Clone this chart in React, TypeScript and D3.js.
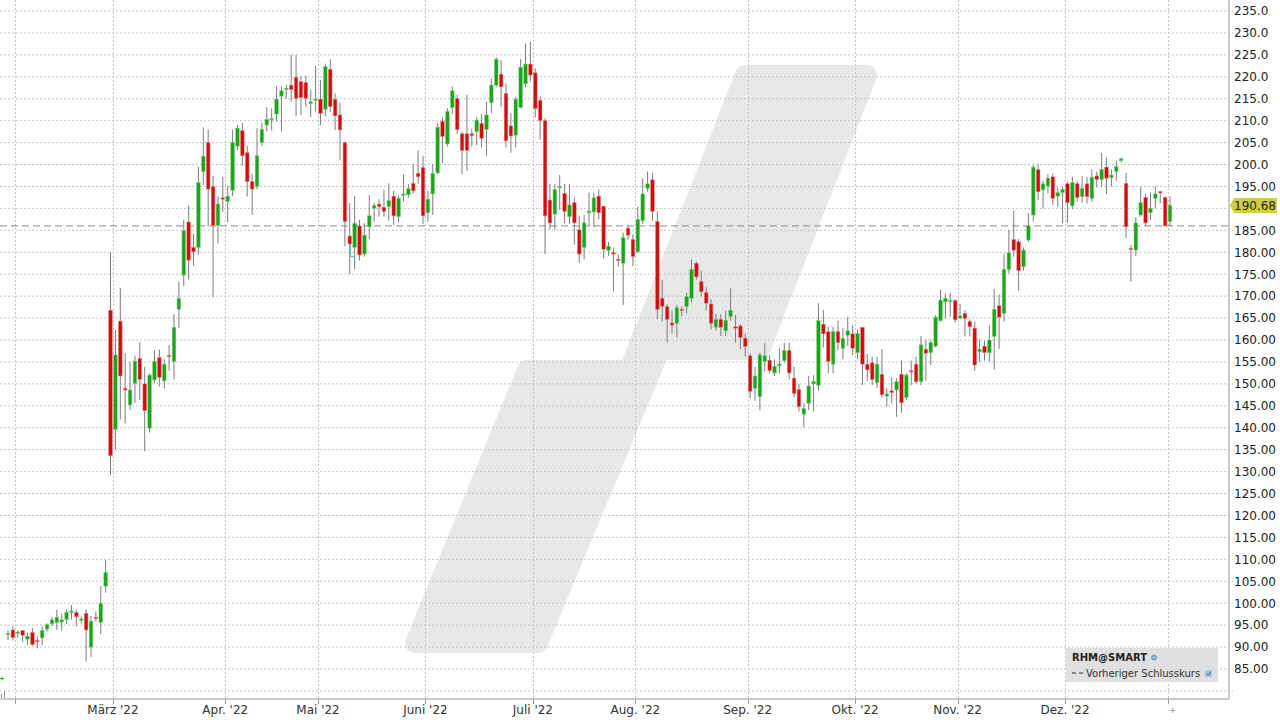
import React from "react";
import * as d3 from "d3";

// OHLC per trading day: [open, high, low, close]
type Bar = [number, number, number, number];

const jan22: Bar[] = [
  [92.9, 93.8, 91.6, 93.1], [93.9, 94.7, 91.5, 92.2],
];
const feb22: Bar[] = [
  [93.1, 93.8, 92.2, 93.4], [93.75, 93.9, 91.2, 92.7], [91.8, 93.3, 90.5, 92.5], [93.3, 94.3, 90.3, 90.6],
  [91.5, 92.4, 89.7, 91.2], [92.1, 94.7, 90.4, 93.75], [94.1, 95.4, 93.5, 95.1], [95.3, 96.9, 94.8, 96.2],
  [95.6, 98.5, 93.9, 96.8], [95.7, 97.6, 93.75, 96.2], [96.3, 98.5, 95.3, 97.9], [97.9, 99.6, 96.3, 98.2],
  [97.9, 98.5, 94.7, 96.9], [96.2, 97.0, 95.4, 96.4], [97.7, 98.6, 86.7, 93.9], [90.0, 97.1, 87.8, 95.9],
  [96.8, 98.1, 95.8, 96.5], [95.6, 103.9, 93.0, 100.0], [103.9, 109.9, 102.4, 107.0], [166.8, 180.0, 129.3, 133.6],
];
const mar22: Bar[] = [
  [139.6, 162.3, 135.0, 156.6], [164.3, 171.9, 141.9, 151.8], [149.0, 157.0, 141.0, 148.6], [145.2, 155.0, 144.1, 148.6],
  [150.1, 156.4, 145.7, 155.2], [155.8, 159.6, 146.3, 151.0], [150.0, 153.9, 134.6, 143.9], [139.9, 152.4, 138.9, 152.0],
  [150.9, 157.7, 150.1, 155.1], [156.0, 157.9, 149.4, 151.5], [150.7, 155.6, 149.0, 154.5], [156.5, 158.9, 153.0, 156.2],
  [155.1, 165.9, 151.0, 162.9], [167.0, 173.3, 162.7, 169.5], [174.8, 187.4, 172.3, 184.9], [186.9, 190.6, 173.8, 178.2],
  [181.1, 184.2, 176.9, 180.1], [181.1, 199.5, 179.4, 195.9], [198.4, 208.5, 195.3, 201.9], [205.0, 207.9, 186.0, 194.4],
  [195.0, 197.4, 169.7, 186.1], [186.1, 192.7, 182.0, 191.0], [192.4, 197.2, 189.3, 192.1],
];
const apr22: Bar[] = [
  [191.6, 195.1, 186.8, 192.8], [194.1, 207.9, 192.8, 205.0], [204.2, 209.0, 203.3, 208.3], [207.7, 209.5, 199.7, 202.0],
  [202.7, 204.2, 192.7, 196.1], [196.1, 197.9, 188.5, 194.4], [195.0, 208.3, 194.4, 202.0], [205.0, 209.5, 204.2, 208.0],
  [209.0, 213.1, 207.5, 210.3], [210.2, 212.8, 207.8, 210.5], [211.5, 217.8, 209.8, 214.9], [215.6, 217.8, 207.5, 216.8],
  [217.1, 218.2, 215.0, 217.4], [218.1, 225.0, 214.3, 217.1], [219.9, 225.0, 211.0, 215.1], [218.9, 220.2, 211.3, 215.3],
  [218.7, 220.2, 213.2, 215.1], [213.9, 217.1, 210.8, 214.3], [214.6, 222.5, 212.1, 214.9],
];
const may22: Bar[] = [
  [214.9, 219.3, 209.0, 211.7], [212.6, 223.0, 211.0, 222.3], [221.7, 224.0, 212.0, 213.2], [214.9, 216.2, 207.9, 211.1],
  [211.3, 214.1, 201.0, 207.9], [205.0, 205.2, 181.4, 187.0], [183.7, 191.2, 175.0, 181.9], [181.1, 192.8, 176.1, 186.6],
  [186.0, 187.4, 178.1, 179.4], [179.6, 186.6, 179.0, 183.9], [185.8, 193.0, 183.0, 188.3], [190.0, 191.3, 187.0, 190.7],
  [191.0, 192.1, 188.1, 190.4], [190.2, 194.3, 188.1, 189.3], [190.4, 195.7, 187.2, 191.8], [192.8, 194.0, 186.2, 188.3],
  [188.1, 193.0, 186.8, 192.3], [193.0, 197.8, 191.5, 193.3], [193.1, 195.6, 192.4, 194.5], [195.7, 200.1, 193.4, 194.0],
  [198.0, 203.2, 195.6, 197.2], [199.3, 201.9, 186.4, 188.3],
];
const jun22: Bar[] = [
  [189.0, 194.0, 187.0, 192.1], [193.3, 200.1, 188.5, 198.0], [198.1, 209.4, 197.8, 208.5], [209.8, 210.8, 200.4, 206.4],
  [204.7, 212.8, 204.1, 212.1], [213.0, 217.8, 211.5, 216.8], [215.1, 215.9, 207.0, 208.0], [207.0, 207.5, 197.8, 203.2],
  [207.0, 215.9, 198.6, 203.2], [207.0, 208.2, 204.1, 206.6], [207.5, 210.8, 204.4, 210.1], [209.4, 211.5, 203.9, 206.0],
  [208.0, 214.3, 202.0, 211.3], [214.1, 219.6, 211.7, 218.1], [218.1, 224.4, 217.6, 224.0], [220.6, 223.8, 213.2, 217.7],
  [216.2, 218.5, 203.9, 205.4], [208.8, 211.7, 202.7, 206.5], [206.7, 215.5, 203.9, 214.9], [213.0, 224.0, 212.8, 222.2],
  [218.4, 227.6, 217.6, 222.9], [222.9, 228.0, 218.9, 220.4],
];
const jul22: Bar[] = [
  [220.9, 221.9, 210.8, 212.8], [214.6, 215.5, 205.7, 210.0], [210.0, 210.5, 179.6, 188.3], [191.9, 195.6, 185.2, 186.7],
  [188.7, 195.6, 185.1, 194.3], [194.7, 197.6, 189.6, 195.0], [193.4, 195.6, 186.6, 189.3], [188.1, 195.6, 186.5, 190.8],
  [191.3, 192.5, 181.7, 186.7], [185.1, 188.3, 177.6, 179.6], [181.1, 188.5, 178.4, 186.7], [189.0, 193.6, 186.0, 189.4],
  [189.2, 193.6, 185.8, 192.4], [192.8, 194.3, 187.5, 189.0], [190.5, 190.5, 178.6, 180.7], [180.4, 182.4, 179.1, 181.4],
  [179.9, 181.1, 171.0, 179.6], [178.4, 179.6, 176.7, 178.1], [177.5, 184.5, 168.0, 183.4], [185.5, 186.2, 182.9, 183.9],
  [182.9, 184.2, 176.9, 179.0],
];
const aug22: Bar[] = [
  [180.1, 190.4, 179.8, 187.5], [187.2, 196.9, 186.4, 193.3], [194.6, 198.4, 193.8, 195.6], [196.5, 198.1, 187.2, 189.3],
  [187.0, 189.3, 164.7, 167.0], [169.5, 173.7, 164.2, 167.7], [167.6, 168.2, 159.4, 164.7], [163.9, 166.7, 161.5, 163.4],
  [163.8, 168.0, 160.6, 167.4], [167.0, 167.6, 165.4, 166.7], [167.6, 170.8, 166.0, 169.9], [169.5, 178.4, 168.5, 176.1],
  [177.5, 177.9, 173.8, 174.4], [173.3, 175.8, 170.0, 171.0], [170.8, 172.0, 166.7, 168.4], [168.2, 169.3, 162.4, 163.8],
  [162.9, 165.9, 162.1, 164.7], [164.7, 165.9, 160.9, 162.9], [162.1, 166.7, 160.9, 164.5], [165.4, 171.8, 164.4, 166.8],
  [163.0, 165.7, 159.4, 162.7], [163.2, 163.6, 157.9, 160.6], [160.4, 161.5, 156.2, 158.5],
];
const sep22: Bar[] = [
  [156.4, 156.9, 146.8, 148.3], [149.0, 153.9, 146.2, 151.8], [147.1, 157.1, 144.0, 156.6], [155.1, 159.3, 152.8, 156.4],
  [155.4, 156.6, 152.4, 153.0], [152.5, 155.6, 151.8, 154.0], [154.1, 158.1, 152.4, 154.5], [155.3, 159.4, 154.8, 157.6],
  [157.6, 159.4, 151.0, 152.5], [151.3, 153.9, 146.9, 147.8], [148.7, 150.0, 143.7, 144.8], [143.1, 145.6, 140.1, 144.4],
  [145.6, 151.8, 144.0, 149.5], [150.0, 152.0, 143.7, 150.5], [149.7, 168.4, 148.4, 164.4], [163.6, 166.8, 158.3, 161.4],
  [161.9, 163.0, 152.4, 155.1], [154.5, 163.0, 152.4, 161.9], [161.9, 164.4, 157.7, 159.4], [158.1, 162.7, 155.6, 160.4],
  [161.1, 165.3, 158.6, 162.1], [161.4, 163.4, 156.6, 158.1],
];
const oct22: Bar[] = [
  [157.1, 162.4, 155.6, 161.5], [162.9, 163.0, 149.7, 154.5], [154.5, 156.8, 150.7, 153.2], [154.8, 156.2, 149.7, 151.0],
  [150.3, 156.2, 149.0, 154.5], [152.2, 157.9, 146.9, 147.5], [147.2, 149.0, 144.8, 147.7], [148.4, 151.5, 145.6, 148.0],
  [148.6, 151.3, 142.5, 150.5], [152.2, 155.3, 143.4, 145.7], [146.9, 152.4, 146.3, 152.0], [153.0, 155.3, 149.7, 152.8],
  [154.5, 156.2, 150.0, 150.5], [150.5, 160.9, 149.7, 158.9], [157.9, 160.1, 150.7, 157.0], [157.1, 160.1, 154.3, 159.4],
  [158.6, 165.7, 158.3, 165.2], [164.4, 171.4, 164.2, 169.1], [168.7, 170.6, 164.9, 169.5], [168.8, 170.8, 165.4, 169.1],
  [169.0, 169.3, 164.0, 164.6],
];
const nov22: Bar[] = [
  [165.0, 168.2, 164.7, 165.5], [166.1, 166.8, 160.8, 164.9], [164.2, 164.7, 160.8, 163.0], [162.7, 164.2, 153.0, 154.3],
  [157.3, 160.1, 155.0, 157.9], [158.6, 159.8, 155.3, 157.1], [157.1, 163.4, 155.1, 160.0], [160.8, 171.7, 153.2, 167.0],
  [167.8, 170.4, 158.0, 165.2], [166.1, 179.7, 164.2, 176.1], [176.1, 185.1, 175.2, 179.9], [182.9, 189.5, 179.0, 180.5],
  [182.4, 183.0, 171.2, 175.8], [176.7, 181.1, 175.8, 180.5], [182.8, 188.9, 182.4, 186.0], [188.5, 199.9, 187.0, 199.4],
  [198.8, 200.1, 191.9, 193.8], [194.2, 196.3, 190.0, 195.6], [195.1, 197.8, 193.4, 196.9], [197.2, 198.0, 190.8, 192.3],
  [192.8, 194.8, 190.4, 193.6], [193.6, 195.0, 186.6, 194.3],
];
const dec22: Bar[] = [
  [195.6, 196.1, 186.7, 191.3], [190.6, 197.2, 189.8, 195.9], [195.6, 196.3, 191.5, 192.5], [192.7, 197.4, 191.3, 194.6],
  [195.6, 197.1, 191.1, 192.7], [192.3, 198.9, 191.5, 197.1], [197.4, 198.4, 194.8, 196.6], [196.6, 202.7, 195.0, 198.9],
  [199.4, 201.6, 193.3, 196.9], [197.1, 198.9, 195.0, 197.6], [198.4, 200.9, 196.3, 199.5], [200.9, 201.6, 200.5, 201.3],
  [195.7, 198.1, 183.2, 185.8], [180.9, 181.7, 173.3, 180.7], [180.5, 188.0, 179.1, 186.7], [188.5, 194.9, 188.1, 191.3],
  [192.5, 193.3, 186.0, 186.7], [189.0, 193.6, 187.4, 190.0], [192.3, 195.0, 190.0, 193.3], [193.8, 194.0, 191.2, 193.6],
  [192.5, 192.8, 186.0, 186.0],
];
const jan23: Bar[] = [[187.0, 192.7, 186.0, 190.68]];

const months = [jan22, feb22, mar22, apr22, may22, jun22, jul22, aug22, sep22, oct22, nov22, dec22, jan23];
// label for the gridline at the start of each month (index into months)
const monthLabels = ["", "", "März '22", "Apr. '22", "Mai '22", "Juni '22", "Juli '22", "Aug. '22", "Sep. '22", "Okt. '22", "Nov. '22", "Dez. '22", "+"];

const lastPrice = 190.68;
const prevClose = 186.0;
const symbol = "RHM@SMART";
const prevCloseLabel = "Vorheriger Schlusskurs";

const W = 1280;
const H = 720;
const plotRight = 1229;
const plotBottom = 699;
const font = "'DejaVu Sans', Verdana, sans-serif";
const UP = "#1ea31e";
const DOWN = "#cc1010";

export default function App() {
  const candles = months.flat().map(([o, h, l, c], i) => ({ i, o, h, l, c }));
  const starts: number[] = [];
  let acc = 0;
  months.forEach((m) => {
    starts.push(acc);
    acc += m.length;
  });

  const x = d3.scaleLinear().domain([0, candles.length - 1]).range([8, 1170]);
  const y = d3.scaleLinear().domain([85, 235]).range([669, 11]);
  const step = x(1) - x(0);
  const bw = 3.6;

  const gridY = d3.range(80, 236, 5);
  const tickY = d3.range(85, 236, 5).filter((v) => v !== 190);
  const fmt = (v: number) => (v >= 200 ? v.toFixed(1) : v.toFixed(2));

  // watermark shape (decorative)
  const wm = "M745,75 L867,75 L760,350 L660,350 L538,643 L415,643 L527,370 L629,370 Z";

  const lastY = y(lastPrice);

  return (
    <svg width={W} height={H} style={{ position: "absolute", left: 0, top: 0, background: "#fff" }} fontFamily={font}>
      <rect x={0} y={0} width={W} height={H} fill="#fff" />
      <path d={wm} fill="#e8e8e8" stroke="#e8e8e8" strokeWidth={20} strokeLinejoin="round" />

      {/* horizontal grid */}
      {gridY.map((v) => (
        <line key={"gy" + v} x1={0} x2={plotRight + 4} y1={y(v)} y2={y(v)} stroke="#c4c4c4" strokeWidth={1} strokeDasharray="2 2" />
      ))}
      {/* vertical grid at month starts */}
      {starts.slice(1).map((s, k) => {
        const gx = Math.round(x(s) - step / 2) + 0.5;
        return (
          <g key={"gx" + k}>
            <line x1={gx} x2={gx} y1={0} y2={plotBottom} stroke="#c4c4c4" strokeDasharray="2 2" />
            <line x1={gx} x2={gx} y1={plotBottom} y2={plotBottom + 5} stroke="#999" />
          </g>
        );
      })}

      {/* previous close */}
      <line x1={0} x2={plotRight} y1={y(prevClose)} y2={y(prevClose)} stroke="#8a8a8a" strokeWidth={1} strokeDasharray="7 4" />

      {/* candles */}
      {candles.map((d) => {
        const up = d.c >= d.o;
        const top = y(Math.max(d.o, d.c));
        const bot = y(Math.min(d.o, d.c));
        const cx = x(d.i);
        return (
          <g key={"c" + d.i}>
            <line x1={cx} x2={cx} y1={y(d.h)} y2={y(d.l)} stroke="#7c7c7c" strokeWidth={1} />
            <rect
              x={cx - bw / 2}
              y={top}
              width={bw}
              height={Math.max(1.2, bot - top)}
              fill={up ? UP : DOWN}
              stroke={up ? "#6fd56f" : "#f07a7a"}
              strokeWidth={0.5}
            />
          </g>
        );
      })}

      {/* small cyan marker */}
      <path d={`M${x(70) + 0.5},${y(181.9)} V${y(179)} H${x(70) + 4.5}`} fill="none" stroke="#33c0d8" strokeWidth={1} />

      {/* axes frame */}
      <line x1={0} x2={plotRight} y1={plotBottom} y2={plotBottom} stroke="#b8b8b8" strokeWidth={1.5} />
      <line x1={plotRight} x2={plotRight} y1={0} y2={plotBottom} stroke="#b8b8b8" strokeWidth={1.5} />

      {/* y labels */}
      {tickY.map((v) => (
        <text key={"ty" + v} x={1234} y={y(v)} dy="0.36em" fontSize={12} fill="#222">
          {fmt(v)}
        </text>
      ))}

      {/* last price marker */}
      <path
        d={`M${plotRight + 1},${lastY} L${plotRight + 5},${lastY - 7.5} H1277 V${lastY + 7.5} H${plotRight + 5} Z`}
        fill="#cfcf45"
      />
      <text x={1234} y={lastY} dy="0.36em" fontSize={12} fill="#222">
        {lastPrice.toFixed(2)}
      </text>

      {/* x labels */}
      {starts.map((s, k) => {
        const lbl = monthLabels[k];
        if (!lbl) return null;
        const gx = x(s) - step / 2;
        if (lbl === "+") {
          return (
            <text key={"tx" + k} x={gx + 5} y={713} fontSize={9} fill="#999" textAnchor="middle">
              +
            </text>
          );
        }
        return (
          <text key={"tx" + k} x={gx} y={714} fontSize={12} fill="#333" textAnchor="middle">
            {lbl}
          </text>
        );
      })}

      {/* left edge icons */}
      <path d="M0,678.5 H4 M2,676.5 V680.5" stroke="#3a3" strokeWidth={1} />
      <line x1={1.5} x2={1.5} y1={694} y2={698} stroke="#999" />
      <line x1={4.5} x2={4.5} y1={691} y2={698} stroke="#999" />

      {/* legend */}
      <rect x={1066} y={648} width={152} height={34} fill="#e0e0e0" />
      <text x={1072} y={661} fontSize={10} fontWeight="bold" fill="#222">
        {symbol}
      </text>
      <circle cx={1154} cy={657.5} r={2.6} fill="#8fb0d8" stroke="#5a82b8" strokeWidth={0.6} />
      <line x1={1072} x2={1083} y1={673} y2={673} stroke="#333" strokeWidth={1.2} strokeDasharray="4 3" />
      <text x={1086} y={676.5} fontSize={10} fill="#333">
        {prevCloseLabel}
      </text>
      <rect x={1205} y={670} width={7} height={7} rx={1.5} fill="#a9c4e6" />
      <path d="M1206.5,673.5 L1208.3,675.3 L1211,671.5" fill="none" stroke="#2e5fa8" strokeWidth={1} />
    </svg>
  );
}
